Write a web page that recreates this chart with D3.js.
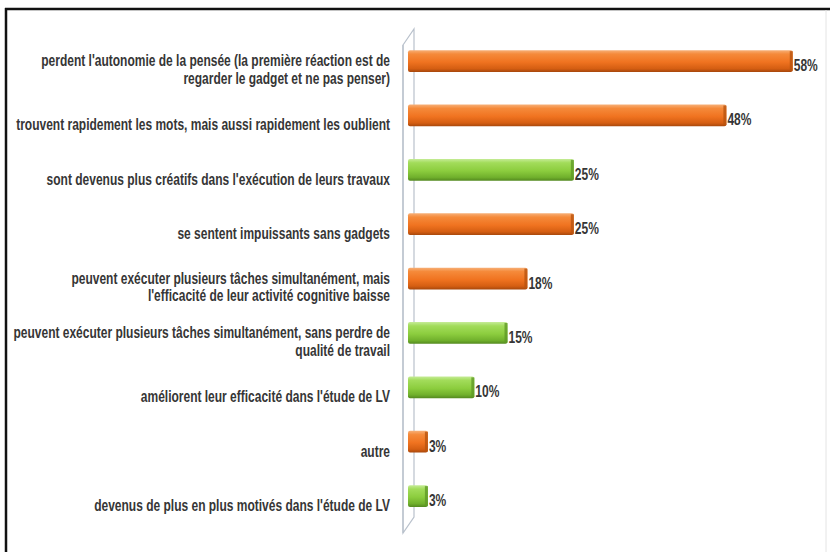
<!DOCTYPE html>
<html>
<head>
<meta charset="utf-8">
<script src="https://cdn.jsdelivr.net/npm/d3@7"></script>
<style>
  html, body { margin: 0; padding: 0; background: #ffffff; }
  svg { display: block; }
  .cat, .val { font-family: "Liberation Sans", Arial, sans-serif; font-weight: bold; fill: #363636; }
</style>
</head>
<body>
<svg id="chart" width="830" height="552"></svg>
<script>
// Answer categories (each entry is the list of lines of the label)
const categories = [
  ["perdent l'autonomie de la pensée (la première réaction est de", "regarder le gadget et ne pas penser)"],
  ["trouvent rapidement les mots, mais aussi rapidement les oublient"],
  ["sont devenus plus créatifs dans l'exécution de leurs travaux"],
  ["se sentent impuissants sans gadgets"],
  ["peuvent exécuter plusieurs tâches simultanément, mais", "l'efficacité de leur activité cognitive baisse"],
  ["peuvent exécuter plusieurs tâches simultanément, sans perdre de", "qualité de travail"],
  ["améliorent leur efficacité dans l'étude de LV"],
  ["autre"],
  ["devenus de plus en plus motivés dans l'étude de LV"]
];
// Share of respondents, in percent
const values = [58, 48, 25, 25, 18, 15, 10, 3, 3];
// Whether the effect is negative or positive (drives the bar colour)
const effects = ["neg", "neg", "pos", "neg", "neg", "pos", "pos", "neg", "pos"];

const svg = d3.select("#chart");
const ids = d3.range(values.length);

const x = d3.scaleLinear().domain([0, 60]).range([408, 806]);
const y = d3.scaleBand().domain(ids).range([17.5, 539.5]).padding(0.6);

// Bar gradients
const defs = svg.append("defs");
function grad(id, stops) {
  const g = defs.append("linearGradient").attr("id", id)
    .attr("x1", 0).attr("y1", 0).attr("x2", 0).attr("y2", 1);
  stops.forEach(([o, c]) => g.append("stop").attr("offset", o).attr("stop-color", c));
}
grad("g-neg", [[0, "#f7b078"], [0.18, "#f58a3a"], [0.55, "#f07320"], [0.85, "#d55e12"], [1, "#a8480c"]]);
grad("g-pos", [[0, "#c6ec98"], [0.18, "#a2dc5a"], [0.55, "#8ccd3e"], [0.85, "#70b02c"], [1, "#548a20"]]);
const capColor = { neg: "#b9540f", pos: "#5f9a26" };

// Frame
svg.append("line").attr("x1", 6).attr("x2", 6).attr("y1", 8).attr("y2", 552)
  .attr("stroke", "#111").attr("stroke-width", 2.5);
svg.append("line").attr("x1", 5).attr("x2", 830).attr("y1", 9).attr("y2", 9)
  .attr("stroke", "#111").attr("stroke-width", 2.5);
svg.append("line").attr("x1", 826).attr("x2", 826).attr("y1", 10).attr("y2", 552)
  .attr("stroke", "#e4e4e4").attr("stroke-width", 1);

// Perspective wall behind the bars
const wall = svg.append("g").attr("fill", "none").attr("stroke", "#b9c1cc").attr("stroke-width", 1.2);
wall.append("path").attr("d", "M403,45 L414,29 L414,517 L403,533 Z");
wall.append("line").attr("x1", 403).attr("x2", 403).attr("y1", 45).attr("y2", 533);

// Bars
const bars = svg.append("g").selectAll("g").data(ids).join("g");
bars.append("rect")
  .attr("x", x(0))
  .attr("y", i => y(i))
  .attr("width", i => x(values[i]) - x(0))
  .attr("height", y.bandwidth())
  .attr("rx", 2)
  .attr("fill", i => `url(#g-${effects[i]})`);
bars.append("rect")
  .attr("x", i => x(values[i]) - 3)
  .attr("y", i => y(i) + 1)
  .attr("width", 3)
  .attr("height", y.bandwidth() - 2)
  .attr("fill", i => capColor[effects[i]])
  .attr("opacity", 0.8);

// Value labels
bars.append("text").attr("class", "val")
  .attr("transform", i => `translate(${x(values[i]) + 1},${y(i) + y.bandwidth() / 2 + 10}) scale(1,1.3)`)
  .attr("font-size", 12)
  .text(i => values[i] + "%");

// Category labels, right aligned against the wall
const lineH = 18;
const cats = svg.append("g").selectAll("text").data(ids).join("text")
  .attr("class", "cat")
  .attr("font-size", 12)
  .attr("text-anchor", "end")
  .attr("transform", i => {
    const n = categories[i].length;
    const base = y(i) + y.bandwidth() / 2 + 15 - (n - 1) * (lineH / 2 + 1);
    return `translate(390,${base}) scale(1,1.3)`;
  });
cats.selectAll("tspan").data(i => categories[i]).join("tspan")
  .attr("x", 0)
  .attr("y", (d, k) => k * lineH / 1.3)
  .text(d => d);
</script>
</body>
</html>
